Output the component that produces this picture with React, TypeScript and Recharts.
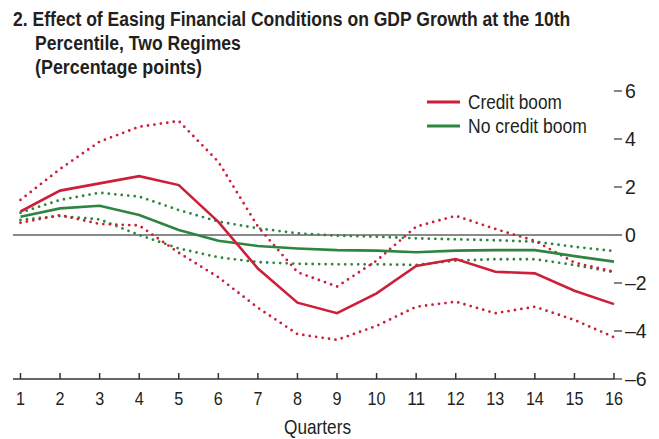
import React from 'react';
import { LineChart, Line, XAxis, YAxis, ReferenceLine, Legend } from 'recharts';

const quarters = [1, 2, 3, 4, 5, 6, 7, 8, 9, 10, 11, 12, 13, 14, 15, 16];
const creditBoom = [0.98, 1.85, 2.15, 2.45, 2.08, 0.55, -1.4, -2.82, -3.26, -2.43, -1.29, -1.0, -1.53, -1.6, -2.32, -2.88];
const creditBoomUpper = [1.46, 2.75, 3.89, 4.51, 4.75, 3.05, 0.35, -1.55, -2.15, -1.07, 0.35, 0.8, 0.25, -0.24, -1.15, -1.53];
const creditBoomLower = [0.51, 0.83, 0.46, 0.4, -0.74, -1.76, -3.03, -4.13, -4.37, -3.79, -2.99, -2.78, -3.26, -2.99, -3.54, -4.26];
const noCreditBoom = [0.76, 1.11, 1.22, 0.83, 0.21, -0.24, -0.46, -0.56, -0.63, -0.65, -0.72, -0.65, -0.63, -0.63, -0.88, -1.11];
const noCreditBoomUpper = [0.93, 1.46, 1.76, 1.6, 1.04, 0.56, 0.28, 0.07, -0.03, -0.07, -0.14, -0.18, -0.22, -0.28, -0.49, -0.67];
const noCreditBoomLower = [0.63, 0.79, 0.65, 0.0, -0.56, -0.93, -1.13, -1.2, -1.22, -1.22, -1.25, -1.07, -1.01, -1.01, -1.25, -1.55];
const yTicks = [-6, -4, -2, 0, 2, 4, 6];
const titleLines = [
  '2. Effect of Easing Financial Conditions on GDP Growth at the 10th',
  'Percentile, Two Regimes',
  '(Percentage points)',
];
const legendItems = [
  { label: 'Credit boom', color: '#CE1F3A' },
  { label: 'No credit boom', color: '#2E8540' },
];
const xAxisTitle = 'Quarters';

const RED = '#CE1F3A';
const GREEN = '#2E8540';
const FONT = "'Liberation Sans', Arial, sans-serif";
const TEXT = '#231F20';
const AXIS = '#333333';

const data = quarters.map((q, i) => ({
  q,
  cb: creditBoom[i],
  cbU: creditBoomUpper[i],
  cbL: creditBoomLower[i],
  ncb: noCreditBoom[i],
  ncbU: noCreditBoomUpper[i],
  ncbL: noCreditBoomLower[i],
}));

let measureCtx: CanvasRenderingContext2D | null = null;
const measure = (text: string, size: number, bold = false) => {
  if (!measureCtx) {
    const c = document.createElement('canvas');
    measureCtx = c.getContext('2d');
  }
  if (!measureCtx) return text.length * size * 0.5;
  measureCtx.font = `${bold ? 'bold ' : ''}${size}px ${FONT}`;
  return measureCtx.measureText(text).width || text.length * size * 0.5;
};

// Text condensed horizontally to a target width (anchor: start or middle)
const FitText = ({ x, y, width, size, bold = false, anchor = 'start', children }: any) => {
  const natural = measure(String(children), size, bold);
  const s = Math.min(1.3, width / natural);
  return (
    <text
      transform={`translate(${x},${y}) scale(${s},1)`}
      x={0}
      y={0}
      textAnchor={anchor}
      fill={TEXT}
      fontSize={size}
      fontWeight={bold ? 'bold' : 'normal'}
      fontFamily={FONT}
    >
      {children}
    </text>
  );
};

const TICK_MARGIN = 8;

const XTick = (props: any) => {
  const { x, y, payload } = props;
  const axisY = y - TICK_MARGIN;
  const label = String(payload.value);
  return (
    <g>
      <line x1={x} x2={x} y1={axisY} y2={axisY - 6} stroke={AXIS} strokeWidth={1.5} />
      <FitText x={x} y={axisY + 26} width={label.length * 9} size={19} anchor="middle">
        {label}
      </FitText>
    </g>
  );
};

const QuartersLabel = (props: any) => {
  const vb = props.viewBox || { x: 13, y: 379, width: 601, height: 55 };
  return (
    <FitText x={vb.x + vb.width / 2 + 4} y={vb.y + vb.height} width={67} size={20} anchor="middle">
      {xAxisTitle}
    </FitText>
  );
};

const fmt = (v: number) => (v < 0 ? '\u2013' + Math.abs(v) : String(v));

const legendWidths = [94, 119];

const LegendContent = () => (
  <svg width={200} height={50} style={{ display: 'block' }}>
    {legendItems.map((it, i) => (
      <g key={it.label}>
        <line x1={0} x2={33} y1={13 + i * 24} y2={13 + i * 24} stroke={it.color} strokeWidth={3} />
        <FitText x={41} y={20 + i * 23.5} width={legendWidths[i]} size={20}>
          {it.label}
        </FitText>
      </g>
    ))}
  </svg>
);

const titleWidths = [558, 206, 167];
const titleX = [13, 35, 35];
const titleY = [25.5, 50, 73.5];

export default function App() {
  const dotted = { strokeWidth: 2.8, strokeDasharray: '0 6.5', strokeLinecap: 'round' as const };
  return (
    <div style={{ position: 'absolute', left: 0, top: 0, width: 659, height: 439, background: '#fff' }}>
      <svg width={659} height={82} style={{ position: 'absolute', left: 0, top: 0 }}>
        {titleLines.map((t, i) => (
          <FitText key={i} x={titleX[i]} y={titleY[i]} width={titleWidths[i]} size={21} bold>
            {t}
          </FitText>
        ))}
      </svg>
      <LineChart width={659} height={439} data={data} margin={{ top: 91, right: 5, bottom: 5, left: 13 }}>
        <XAxis
          dataKey="q"
          type="number"
          domain={[1, 16]}
          ticks={quarters}
          padding={{ left: 7.5, right: 0 }}
          tickSize={0}
          tickMargin={TICK_MARGIN}
          tickLine={false}
          tick={<XTick />}
          axisLine={{ stroke: AXIS, strokeWidth: 1.5 }}
          height={55}
          interval={0}
          label={<QuartersLabel />}
        />
        <YAxis
          yAxisId="left"
          orientation="left"
          mirror
          width={0}
          domain={[-6, 6]}
          ticks={yTicks}
          tickSize={8}
          tickFormatter={() => ''}
          axisLine={false}
          tickLine={{ stroke: AXIS, strokeWidth: 1.2 }}
        />
        <YAxis
          yAxisId="right"
          orientation="right"
          width={40}
          domain={[-6, 6]}
          ticks={yTicks}
          tickSize={8}
          tickMargin={3}
          tickFormatter={fmt}
          axisLine={false}
          tickLine={{ stroke: AXIS, strokeWidth: 1.2 }}
          tick={{ fill: TEXT, fontSize: 19.5, fontFamily: FONT }}
        />
        <ReferenceLine yAxisId="right" y={0} stroke="#8A8A8A" strokeWidth={1.8} />
        <Line yAxisId="right" dataKey="ncbU" stroke={GREEN} dot={false} isAnimationActive={false} legendType="none" {...dotted} />
        <Line yAxisId="right" dataKey="ncbL" stroke={GREEN} dot={false} isAnimationActive={false} legendType="none" {...dotted} />
        <Line yAxisId="right" dataKey="cbU" stroke={RED} dot={false} isAnimationActive={false} legendType="none" {...dotted} />
        <Line yAxisId="right" dataKey="cbL" stroke={RED} dot={false} isAnimationActive={false} legendType="none" {...dotted} />
        <Line yAxisId="right" dataKey="ncb" name="No credit boom" stroke={GREEN} strokeWidth={2.6} dot={false} isAnimationActive={false} />
        <Line yAxisId="right" dataKey="cb" name="Credit boom" stroke={RED} strokeWidth={2.6} dot={false} isAnimationActive={false} />
        <Legend
          layout="vertical"
          verticalAlign="middle"
          align="center"
          content={<LegendContent />}
          wrapperStyle={{ top: 89, left: 427, width: 200, height: 50 }}
        />
      </LineChart>
    </div>
  );
}
